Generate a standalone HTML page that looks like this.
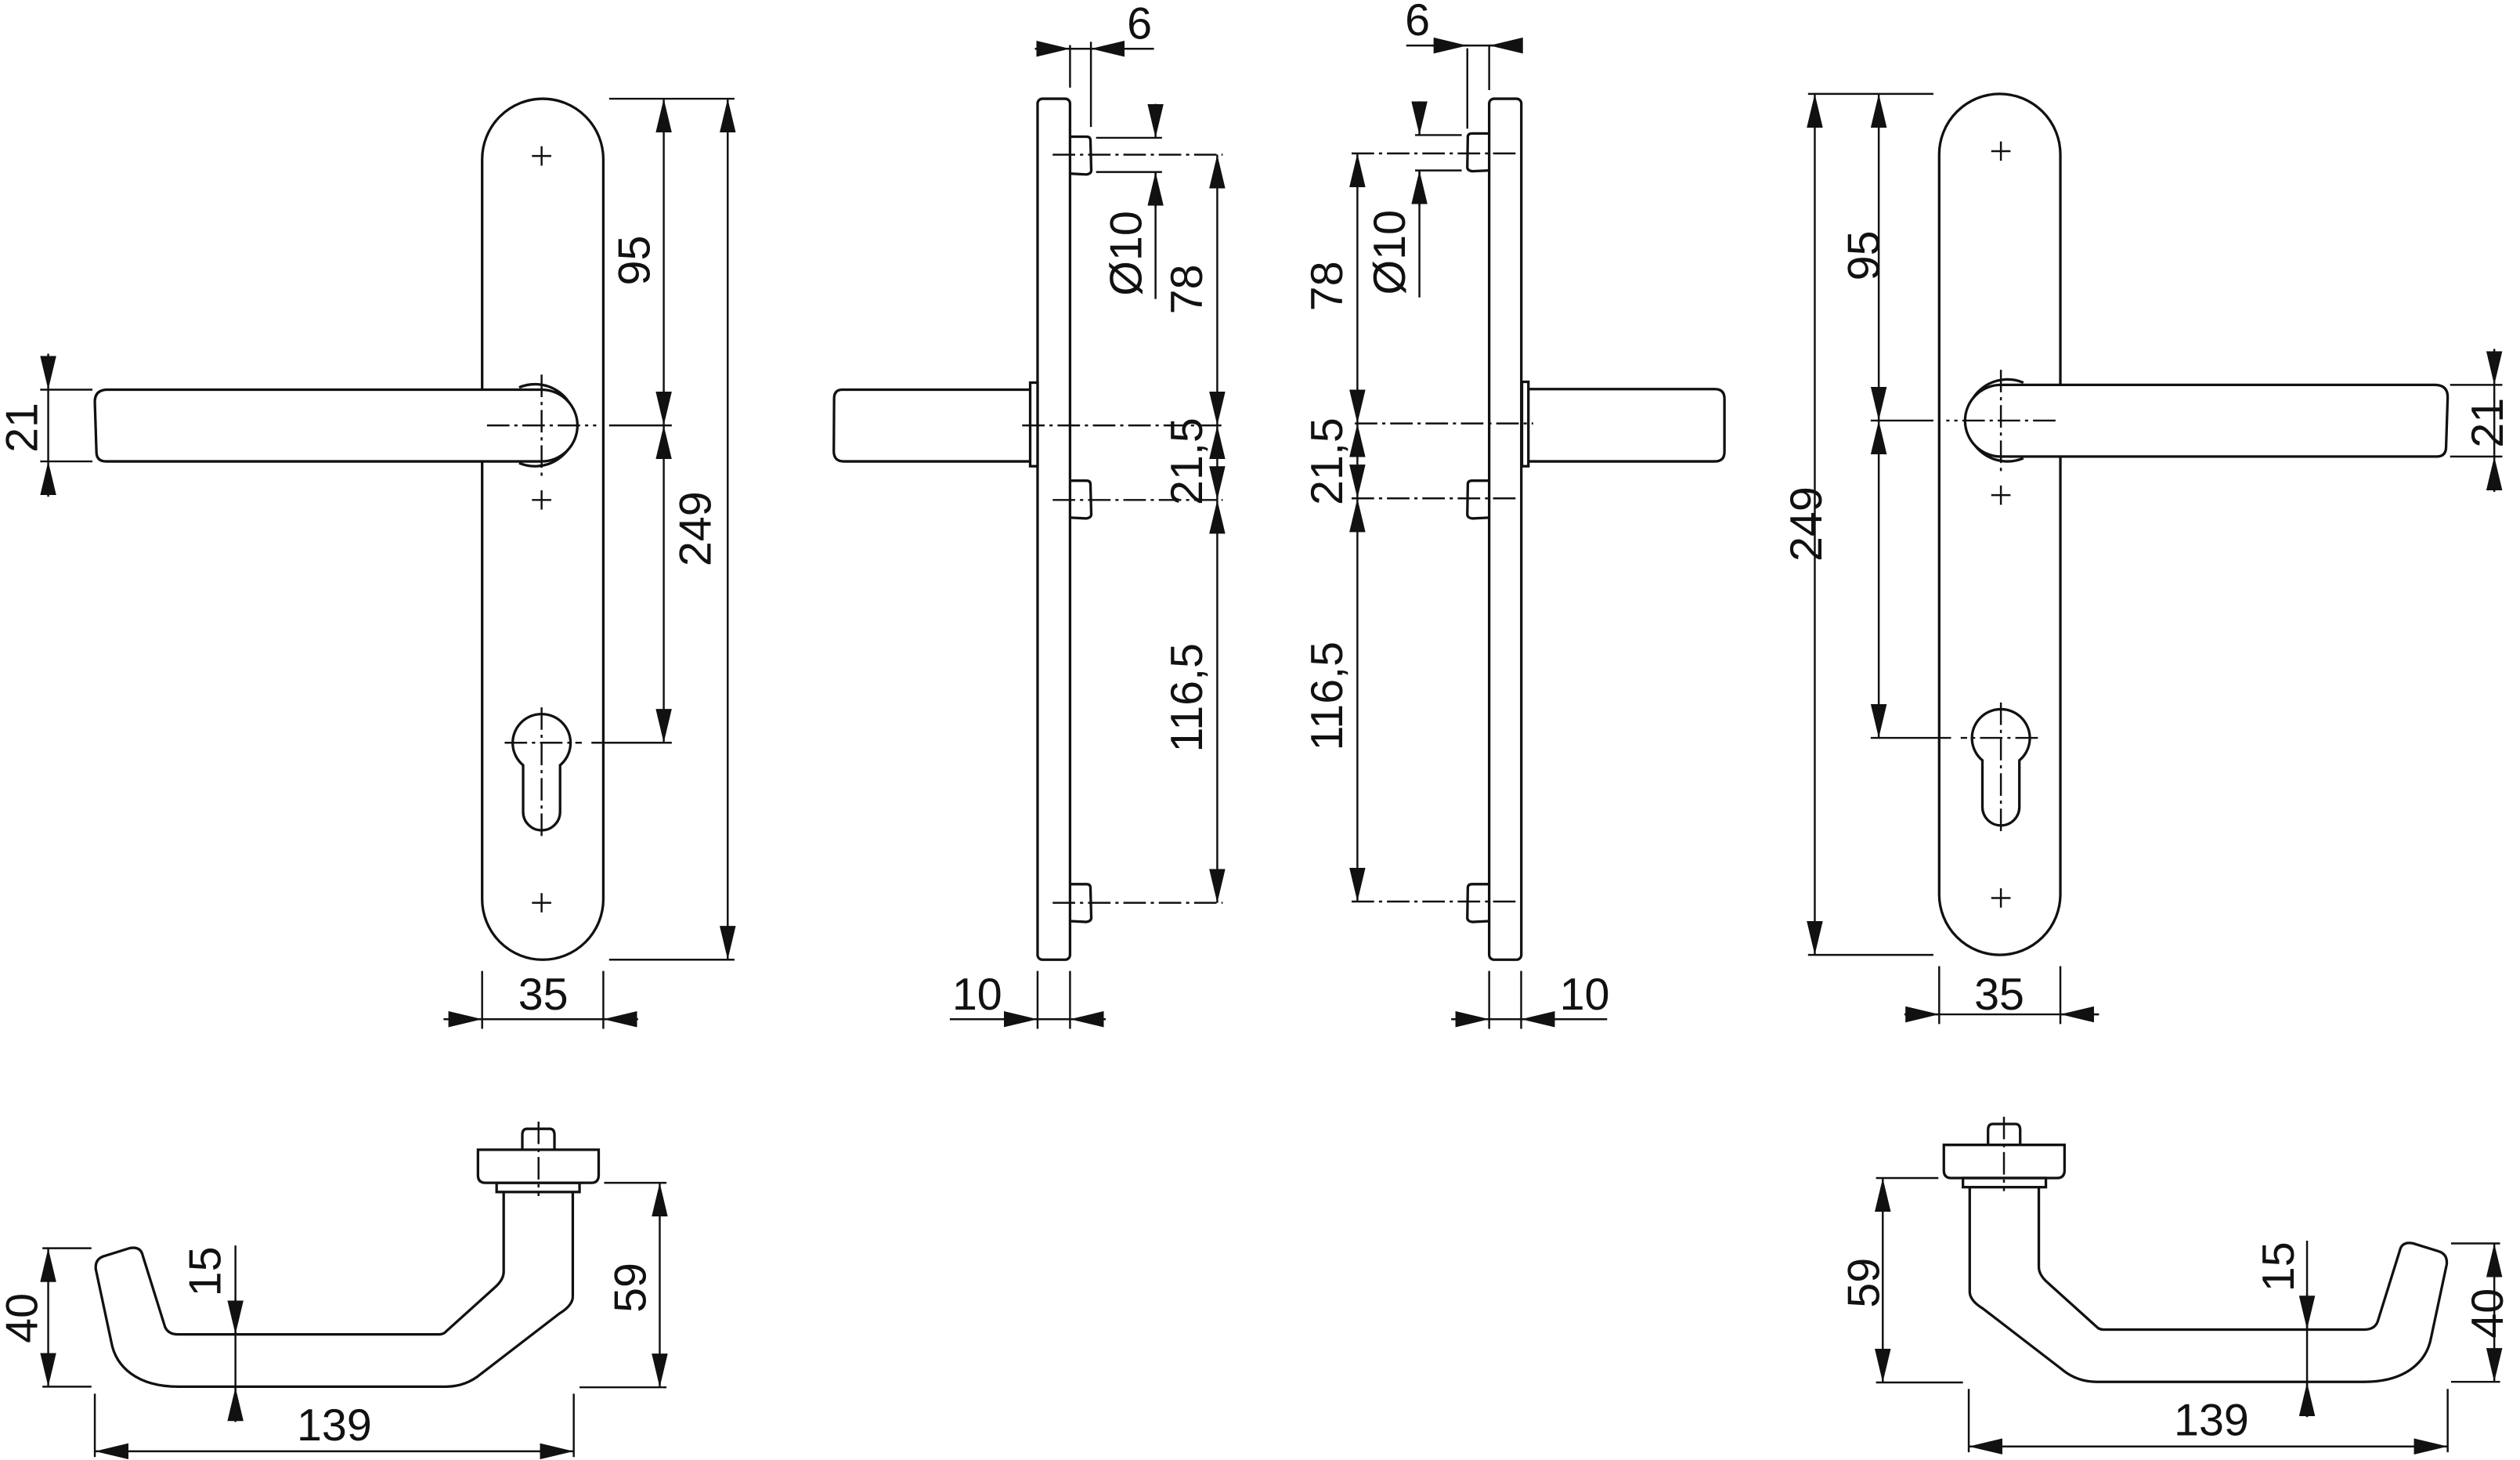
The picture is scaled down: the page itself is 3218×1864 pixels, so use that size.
<!DOCTYPE html>
<html><head><meta charset="utf-8"><style>
html,body{margin:0;padding:0;background:#fff}
svg{display:block}
text{font-family:"Liberation Sans",sans-serif;font-size:28px;fill:#111}
.s{fill:none;stroke:#111;stroke-width:1.6}
.w{fill:#fff;stroke:#111;stroke-width:1.6}
.t{fill:none;stroke:#111;stroke-width:1.2}
.c{fill:none;stroke:#111;stroke-width:1.2;stroke-dasharray:14 3 2 3}
.d{fill:none;stroke:#111;stroke-width:1.2;marker-end:url(#a)}
.dd{fill:none;stroke:#111;stroke-width:1.2;marker-start:url(#a);marker-end:url(#a)}
</style></head><body>
<svg width="3218" height="1864" viewBox="0 0 1568 908.2" xmlns="http://www.w3.org/2000/svg">
<defs>
<marker id="a" viewBox="0 0 21 10" refX="21" refY="5" markerWidth="21" markerHeight="10" markerUnits="userSpaceOnUse" orient="auto-start-reverse"><path d="M0,0 L21,5 L0,10z" fill="#111"/></marker>
<g id="F">
<rect class="s" x="300" y="61.4" width="75.4" height="535.6" rx="37.7"/>
<path class="s" d="M323,241 A25.5,25.5 0 1 1 323,288"/>
<path class="w" d="M300,242.4 H337 A22.3,22.3 0 0 1 337,287 H66 Q60,287 60,281 L59,250 Q59,242.4 67,242.4 H300"/>
<path class="t" d="M331,97 h12 M337,91 v12 M331,311 h12 M337,305 v12 M331,561.6 h12 M337,555.6 v12"/>
<path class="c" d="M337,233 V296 M303,264.6 H371"/>
<path class="t" d="M379,264.6 H418"/>
<path class="s" d="M325.5,476 A18,18 0 1 1 348.5,476 V505 A11.5,11.5 0 0 1 325.5,505 Z"/>
<path class="c" d="M314,462 H362 M337,440 V521"/>
<path class="t" d="M368,462 H418 M379,61.4 H457 M379,597 H457"/>
<line class="dd" x1="413" y1="61.4" x2="413" y2="264.6"/>
<line class="dd" x1="413" y1="264.6" x2="413" y2="462"/>
<line class="dd" x1="452.8" y1="61.4" x2="452.8" y2="597"/>
<path class="t" d="M25,242.4 H57.5 M25,287 H57.5 M30,242.4 V287 M300,604 V640 M375.4,604 V640 M276,634 H397"/>
<line class="d" x1="30" y1="220" x2="30" y2="242.4"/>
<line class="d" x1="30" y1="309" x2="30" y2="287"/>
<line class="d" x1="276" y1="634" x2="300" y2="634"/>
<line class="d" x1="397" y1="634" x2="375.4" y2="634"/>
</g>
<g id="B">
<path class="s" d="M297.4,715.2 H372.5 V731 Q372.5,735.8 368,735.8 H302 Q297.4,735.8 297.4,731 Z"/>
<path class="s" d="M325,715.2 V706 Q325,702.2 328,702.2 H342 Q345,702.2 345,706 V715.2"/>
<rect class="s" x="309" y="735.8" width="51.6" height="5.7"/>
<path class="s" d="M356.4,741.5 V806.5 Q356.4,812 348.1,817.1 L299.6,854.4 Q290,862.6 277.4,862.6 H111 C85,862.6 72,850 69.3,835 L59.6,789.5 Q59,783 65,781.3 L80.4,776.5 Q87.5,775 88.8,781 L102.6,825.2 Q104.5,830.1 111,830.1 H273.2 Q276,830 277.4,828.4 L308,800.8 Q313.4,796 313.4,791.1 V741.5"/>
<path class="c" d="M335.1,697.7 V744"/>
<path class="t" d="M26.4,776.5 H56.9 M26.4,862.6 H56.9 M375.9,735.8 H414.7 M360.6,863 H414.7 M59,867 V906.4 M357,867 V906.4 M146.5,774.8 V884.5"/>
<line class="dd" x1="30" y1="776.5" x2="30" y2="862.6"/>
<line class="dd" x1="410.5" y1="735.8" x2="410.5" y2="863"/>
<line class="dd" x1="59" y1="902.8" x2="357" y2="902.8"/>
<line class="d" x1="146.5" y1="808" x2="146.5" y2="830"/>
<line class="d" x1="146.5" y1="884.5" x2="146.5" y2="863"/>
</g>
</defs>

<use href="#F"/>
<use href="#F" transform="translate(1582,-3) scale(-1,1)"/>
<use href="#B"/>
<use href="#B" transform="translate(1582,-3) scale(-1,1)"/>

<rect class="s" x="645.6" y="61.4" width="20.2" height="535.6" rx="3"/>
<path class="w" d="M641,242.4 H524 Q519,242.4 519,248 L518.8,281 Q519,287 525,287 H641"/>
<rect class="w" x="641" y="238" width="4.6" height="52"/>
<path class="s" d="M666,85 H676 Q678.3,85 678.5,87 L679,106 Q679,108 676,108.5 L666,108 M666,299 H676 Q678.3,299 678.5,301 L679,320 Q679,322 676,322.5 L666,322 M666,550 H676 Q678.3,550 678.5,552 L679,571 Q679,573 676,573.5 L666,573"/>
<path class="c" d="M655,96.2 H760.8 M636,264.6 H760.8 M655,311 H760.8 M655,561.6 H760.8"/>
<path class="t" d="M682,85.7 H723 M682,107 H723 M665.8,28 V54.5 M678.8,26 V79 M644,30.3 H718 M719,107 V186 M645.6,604 V640 M665.8,604 V640 M591,634 H688"/>
<line class="d" x1="719" y1="64.6" x2="719" y2="85.7"/>
<line class="d" x1="719" y1="129" x2="719" y2="107"/>
<line class="d" x1="644" y1="30.3" x2="665.8" y2="30.3"/>
<line class="d" x1="701" y1="30.3" x2="678.8" y2="30.3"/>
<line class="dd" x1="757.4" y1="96.2" x2="757.4" y2="264.6"/>
<line class="dd" x1="757.4" y1="264.6" x2="757.4" y2="311"/>
<line class="dd" x1="757.4" y1="311" x2="757.4" y2="561.6"/>
<line class="d" x1="620" y1="634" x2="645.6" y2="634"/>
<line class="d" x1="688" y1="634" x2="665.8" y2="634"/>

<rect class="s" x="926.6" y="61.4" width="20" height="535.6" rx="3"/>
<path class="w" d="M951,242 H1067 Q1073,242 1073,248 V281 Q1073,287 1067,287 H951"/>
<rect class="w" x="947" y="237.5" width="4" height="52.5"/>
<path class="s" d="M926.6,83 H916 Q913.5,83 913.3,85 L913,104 Q913,106 916,106.5 L926.6,106 M926.6,299 H916 Q913.5,299 913.3,301 L913,320 Q913,322 916,322.5 L926.6,322 M926.6,550 H916 Q913.5,550 913.3,552 L913,571 Q913,573 916,573.5 L926.6,573"/>
<path class="c" d="M841,95.4 H943.7 M843,263.4 H954 M841,310 H943.7 M841,560.8 H943.7"/>
<path class="t" d="M880.5,84 H909.5 M880.5,106 H909.5 M913,30 V80 M926.6,28 V56 M875,28.3 H947 M883.2,106 V185 M926.6,604 V640 M946.5,604 V640 M903,634 H1000"/>
<line class="d" x1="883.2" y1="63" x2="883.2" y2="84"/>
<line class="d" x1="883.2" y1="128" x2="883.2" y2="106"/>
<line class="d" x1="891" y1="28.3" x2="913" y2="28.3"/>
<line class="d" x1="947" y1="28.3" x2="926.6" y2="28.3"/>
<line class="dd" x1="844.6" y1="95.4" x2="844.6" y2="263.4"/>
<line class="dd" x1="844.6" y1="263.4" x2="844.6" y2="310"/>
<line class="dd" x1="844.6" y1="310" x2="844.6" y2="560.8"/>
<line class="d" x1="903" y1="634" x2="926.6" y2="634"/>
<line class="d" x1="970" y1="634" x2="946.5" y2="634"/>

<g text-anchor="middle" dominant-baseline="central">
<text transform="translate(14,266) rotate(-90)">21</text>
<text transform="translate(395,162) rotate(-90)">95</text>
<text transform="translate(433,329) rotate(-90)">249</text>
<text transform="translate(701,157.6) rotate(-90)">Ø10</text>
<text transform="translate(738.6,180) rotate(-90)">78</text>
<text transform="translate(738.6,287) rotate(-90)">21,5</text>
<text transform="translate(738.6,434) rotate(-90)">116,5</text>
<text transform="translate(865,157) rotate(-90)">Ø10</text>
<text transform="translate(826,178) rotate(-90)">78</text>
<text transform="translate(826,287) rotate(-90)">21,5</text>
<text transform="translate(826,433) rotate(-90)">116,5</text>
<text transform="translate(1160,159) rotate(-90)">95</text>
<text transform="translate(1124,326) rotate(-90)">249</text>
<text transform="translate(1548,263) rotate(-90)">21</text>
<text transform="translate(14,820) rotate(-90)">40</text>
<text transform="translate(128,791) rotate(-90)">15</text>
<text transform="translate(392.5,801) rotate(-90)">59</text>
<text transform="translate(1160,798) rotate(-90)">59</text>
<text transform="translate(1418,788) rotate(-90)">15</text>
<text transform="translate(1548,817) rotate(-90)">40</text>
</g>
<g text-anchor="middle">
<text x="709" y="24">6</text>
<text x="882" y="22">6</text>
<text x="338" y="628">35</text>
<text x="1244" y="628">35</text>
<text x="608" y="628">10</text>
<text x="986" y="628">10</text>
<text x="208" y="896">139</text>
<text x="1376" y="893">139</text>
</g>
</svg>
</body></html>
